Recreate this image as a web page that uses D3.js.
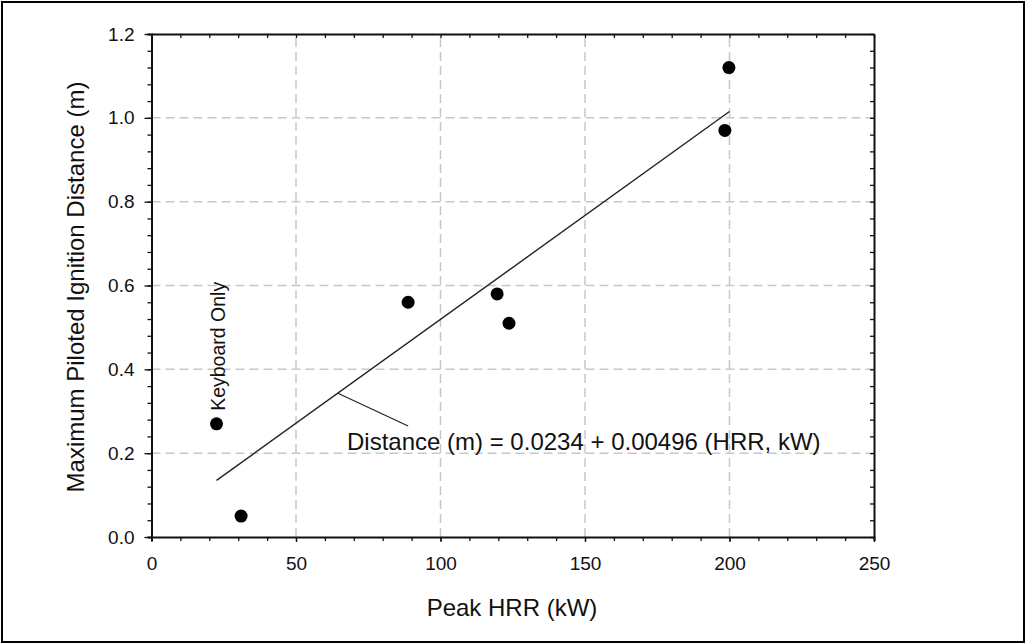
<!DOCTYPE html>
<html>
<head>
<meta charset="utf-8">
<script src="https://cdn.jsdelivr.net/npm/d3@7"></script>
<style>
  html, body { margin: 0; padding: 0; background: #fff; }
  svg text { font-family: "Liberation Sans", Arial, sans-serif; fill: #111; }
</style>
</head>
<body>
<div id="chart"></div>
<script>
// data
let hrr = [22.5, 31, 88.8, 119.6, 123.7, 198.4, 199.8];
let distance = [0.27, 0.05, 0.56, 0.58, 0.51, 0.97, 1.12];

// regression line drawn over the data range
let fit_x = [22.5, 200];
let fit_y = [0.135, 1.015];

// leader from the line to the equation label
let leader_x = [64.5, 88.8];
let leader_y = [0.343, 0.265];

let x_ticks = [0, 50, 100, 150, 200, 250];
let y_ticks = [0.0, 0.2, 0.4, 0.6, 0.8, 1.0, 1.2];

let width = 1026;
let height = 644;
let margin = { top: 34, right: 152, bottom: 107, left: 151.5 };

let x = d3.scaleLinear().domain([0, 250]).range([margin.left, width - margin.right]);
let y = d3.scaleLinear().domain([0, 1.2]).range([height - margin.bottom, margin.top]);

let svg = d3.select("#chart")
	.append("svg")
	.attr("width", width)
	.attr("height", height);

// outer frame
svg.append("rect")
	.attr("x", 2)
	.attr("y", 2)
	.attr("width", width - 4)
	.attr("height", height - 4)
	.attr("fill", "none")
	.attr("stroke", "#000")
	.attr("stroke-width", 2);

// dashed grid
let grid = svg.append("g")
	.attr("stroke", "#c8c8c8")
	.attr("stroke-width", 1.5)
	.attr("stroke-dasharray", "9,5");

grid.selectAll(".gx")
	.data(x_ticks.filter(d => d > 0 && d < 250))
	.enter()
	.append("line")
	.attr("x1", d => x(d))
	.attr("x2", d => x(d))
	.attr("y1", y(0))
	.attr("y2", y(1.2));

grid.selectAll(".gy")
	.data(y_ticks.filter(d => d > 0 && d < 1.2))
	.enter()
	.append("line")
	.attr("x1", x(0))
	.attr("x2", x(250))
	.attr("y1", d => y(d))
	.attr("y2", d => y(d));

let minor_x = d3.range(0, 251, 10);
let minor_y = d3.range(0, 1.2001, 0.04);

function style_axis(g) {
	g.select(".domain").attr("stroke", "#111").attr("stroke-width", 2);
	g.selectAll(".tick line").attr("stroke", "#111").attr("stroke-width", 1.3);
	g.selectAll(".tick text")
		.style("font-size", "19px")
		.attr("fill", "#111");
}

// left axis: labels, major and minor ticks outward
svg.append("g")
	.attr("transform", "translate(" + x(0) + ",0)")
	.call(d3.axisLeft(y).tickValues(minor_y).tickSize(4).tickFormat(""))
	.call(style_axis);
svg.append("g")
	.attr("transform", "translate(" + x(0) + ",0)")
	.call(d3.axisLeft(y).tickValues(y_ticks).tickSize(7).tickSizeOuter(0).tickPadding(10).tickFormat(d3.format(".1f")))
	.call(style_axis)
	.call(g => g.select(".domain").remove());

// bottom axis
svg.append("g")
	.attr("transform", "translate(0," + y(0) + ")")
	.call(d3.axisBottom(x).tickValues(minor_x).tickSize(4).tickFormat(""))
	.call(style_axis);
svg.append("g")
	.attr("transform", "translate(0," + y(0) + ")")
	.call(d3.axisBottom(x).tickValues(x_ticks).tickSize(5).tickSizeOuter(0).tickPadding(15).tickFormat(d3.format("d")))
	.call(style_axis)
	.call(g => g.select(".domain").remove());

// top and right mirror axes, ticks inward
svg.append("g")
	.attr("transform", "translate(0," + y(1.2) + ")")
	.call(d3.axisTop(x).tickValues(minor_x).tickSize(-4).tickSizeOuter(0).tickFormat(""))
	.call(style_axis);
svg.append("g")
	.attr("transform", "translate(" + x(250) + ",0)")
	.call(d3.axisRight(y).tickValues(minor_y).tickSize(-4).tickSizeOuter(0).tickFormat(""))
	.call(style_axis);

// fit line
let line = d3.line().x(d => x(d[0])).y(d => y(d[1]));

svg.append("path")
	.datum(d3.zip(fit_x, fit_y))
	.attr("d", line)
	.attr("fill", "none")
	.attr("stroke", "#222")
	.attr("stroke-width", 1.4);

svg.append("path")
	.datum(d3.zip(leader_x, leader_y))
	.attr("d", line)
	.attr("fill", "none")
	.attr("stroke", "#222")
	.attr("stroke-width", 1.2);

// points
svg.selectAll(".dot")
	.data(d3.zip(hrr, distance))
	.enter()
	.append("circle")
	.attr("cx", d => x(d[0]))
	.attr("cy", d => y(d[1]))
	.attr("r", 6.5)
	.attr("fill", "#000");

// annotations
svg.append("text")
	.attr("x", 347)
	.attr("y", 450)
	.style("font-size", "24px")
	.text("Distance (m) = 0.0234 + 0.00496 (HRR, kW)");

svg.append("text")
	.attr("transform", "translate(" + (x(22.5) + 8) + "," + (y(0.27) - 13) + ") rotate(-90)")
	.style("font-size", "19.5px")
	.text("Keyboard Only");

// axis titles
svg.append("text")
	.attr("x", 512)
	.attr("y", 616)
	.attr("text-anchor", "middle")
	.style("font-size", "24px")
	.text("Peak HRR (kW)");

svg.append("text")
	.attr("transform", "translate(84,287) rotate(-90)")
	.attr("text-anchor", "middle")
	.style("font-size", "24px")
	.text("Maximum Piloted Ignition Distance (m)");
</script>
</body>
</html>
